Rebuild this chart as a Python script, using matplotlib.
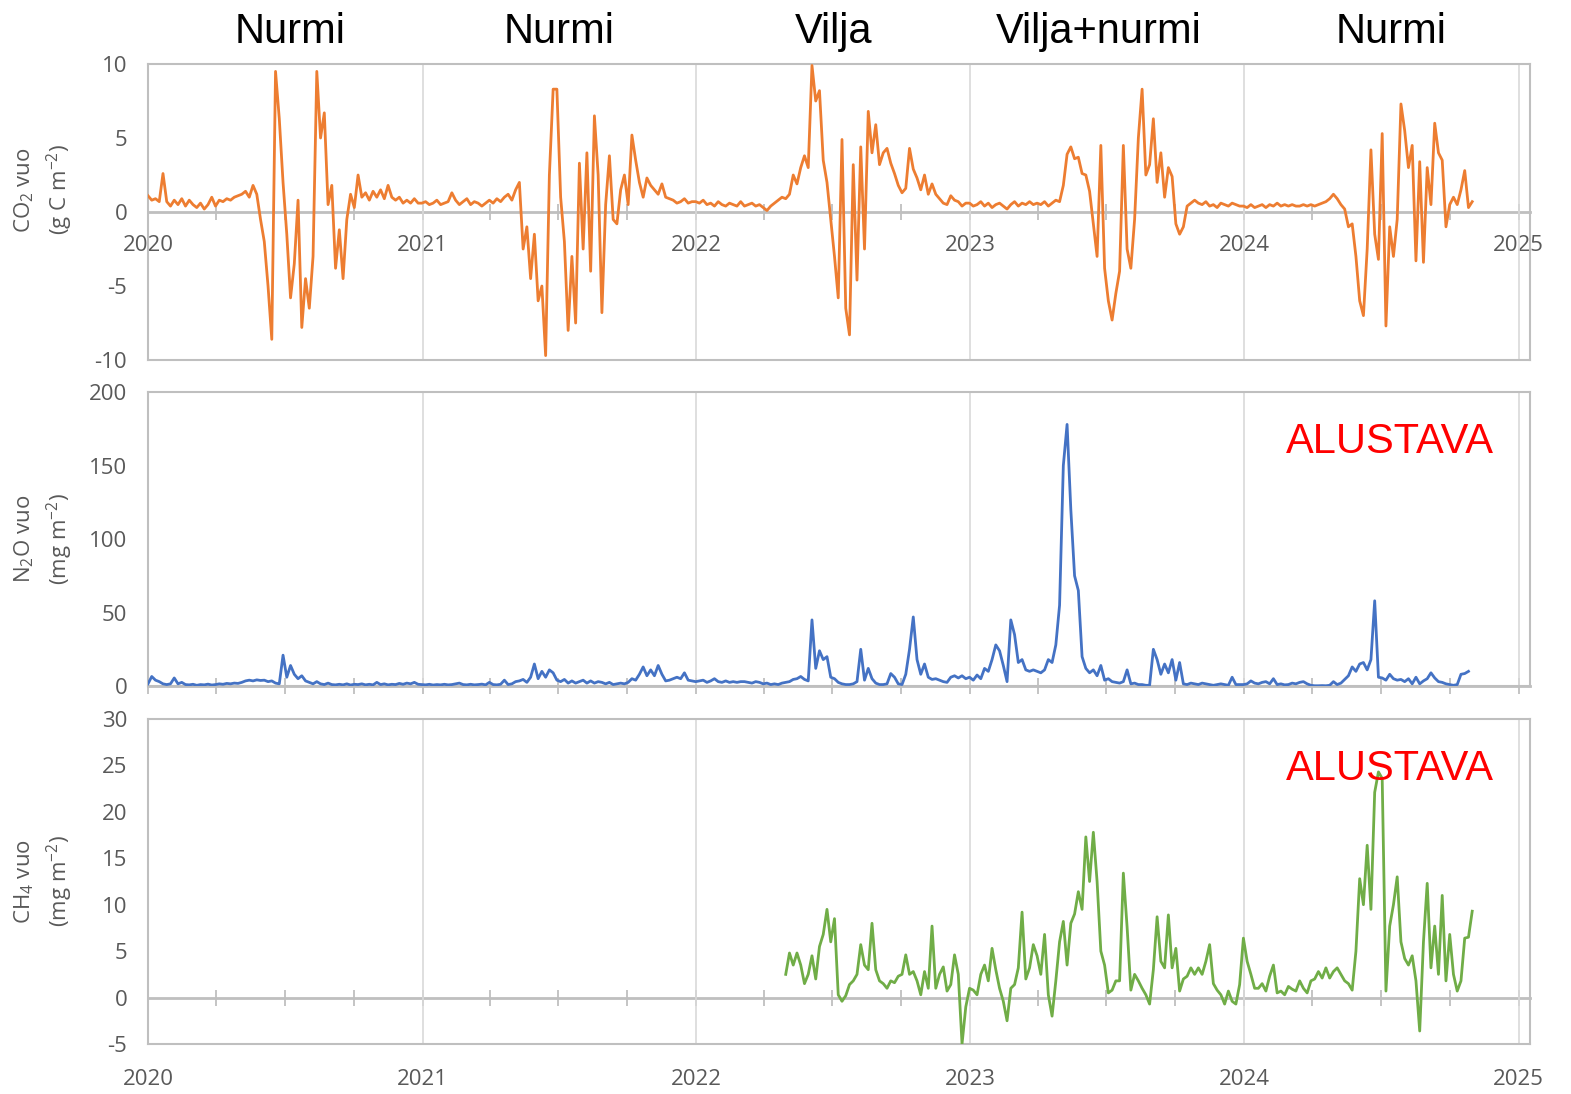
import pandas as pd
import matplotlib
matplotlib.use("Agg")
import matplotlib.pyplot as plt
import matplotlib.dates as mdates
import matplotlib.transforms as mtransforms

# 5-day flux values
step = "5D"

co2_start = "2020-01-01"
co2_vals = [
    1.1, 0.8, 0.9, 0.7, 2.6, 0.7, 0.4, 0.8, 0.5, 0.9,
    0.4, 0.8, 0.5, 0.3, 0.6, 0.2, 0.5, 1.0, 0.4, 0.8,
    0.7, 0.9, 0.8, 1.0, 1.1, 1.2, 1.4, 1.0, 1.8, 1.2,
    -0.5, -2.0, -5.0, -8.6, 9.5, 6.3, 2.0, -1.5, -5.8, -3.5,
    0.8, -7.8, -4.5, -6.5, -3.0, 9.5, 5.0, 6.7, 0.5, 1.8,
    -3.8, -1.2, -4.5, -0.5, 1.2, 0.3, 2.5, 1.0, 1.3, 0.8,
    1.4, 1.0, 1.5, 0.9, 1.8, 1.0, 0.8, 1.0, 0.6, 0.8,
    0.6, 0.9, 0.6,
    # 2021
    0.6, 0.7, 0.5, 0.6, 0.8, 0.5, 0.6, 0.7, 1.3, 0.8,
    0.5, 0.7, 0.9, 0.5, 0.7, 0.6, 0.4, 0.6, 0.8, 0.6,
    0.9, 0.7, 1.0, 1.2, 0.8, 1.5, 2.0, -2.5, -1.0, -4.5,
    -1.5, -6.0, -5.0, -9.7, 2.5, 8.3, 8.3, 1.0, -2.0, -8.0,
    -3.0, -7.5, 3.3, -2.5, 4.0, -4.0, 6.5, 2.5, -6.8, 0.5,
    3.8, -0.5, -0.8, 1.5, 2.5, 0.5, 5.2, 3.5, 2.0, 1.0,
    2.3, 1.8, 1.5, 1.2, 1.9, 1.0, 0.9, 0.8, 0.6, 0.7,
    0.9, 0.6, 0.7,
    # 2022
    0.7, 0.6, 0.8, 0.5, 0.6, 0.4, 0.7, 0.5, 0.4, 0.6,
    0.5, 0.4, 0.7, 0.4, 0.5, 0.6, 0.4, 0.5, 0.3, 0.1,
    0.4, 0.6, 0.8, 1.0, 0.9, 1.2, 2.5, 1.9, 3.0, 3.8,
    3.0, 9.9, 7.5, 8.2, 3.5, 2.0, -0.5, -3.0, -5.8, 4.9,
    -6.5, -8.3, 3.2, -4.6, 4.4, -2.5, 6.8, 4.0, 5.9, 3.2,
    4.0, 4.3, 3.3, 2.6, 1.8, 1.3, 1.6, 4.3, 2.9, 2.3,
    1.5, 2.5, 1.2, 1.9, 1.2, 0.9, 0.6, 0.5, 1.1, 0.8,
    0.7, 0.4, 0.6,
    # 2023
    0.6, 0.4, 0.5, 0.7, 0.4, 0.6, 0.3, 0.5, 0.6, 0.4,
    0.2, 0.5, 0.7, 0.4, 0.6, 0.5, 0.7, 0.5, 0.6, 0.5,
    0.7, 0.4, 0.6, 0.8, 0.7, 1.8, 3.9, 4.4, 3.6, 3.7,
    2.6, 2.5, 1.4, -0.8, -3.0, 4.5, -3.8, -6.0, -7.3, -5.5,
    -4.0, 4.5, -2.5, -3.8, -0.5, 5.0, 8.3, 2.5, 3.2, 6.3,
    2.0, 4.0, 1.0, 3.0, 2.4, -0.8, -1.5, -1.0, 0.4, 0.6,
    0.8, 0.6, 0.5, 0.7, 0.4, 0.5, 0.3, 0.6, 0.5, 0.4,
    0.6, 0.5, 0.4,
    # 2024
    0.4, 0.3, 0.5, 0.3, 0.4, 0.5, 0.3, 0.5, 0.4, 0.6,
    0.4, 0.5, 0.4, 0.5, 0.4, 0.4, 0.5, 0.4, 0.5, 0.4,
    0.5, 0.6, 0.7, 0.9, 1.2, 0.9, 0.5, 0.2, -1.0, -0.8,
    -3.0, -6.0, -7.0, -2.5, 4.2, -1.5, -3.2, 5.3, -7.7, -1.0,
    -3.0, -0.5, 7.3, 5.5, 3.0, 4.5, -3.3, 3.4, -3.4, 3.0,
    0.5, 6.0, 4.0, 3.5, -1.0, 0.5, 1.0, 0.5, 1.5, 2.8,
    0.3, 0.7,
]

n2o_start = "2020-01-01"
n2o_vals = [
    1.5, 6.5, 4.0, 3.0, 1.5, 1.0, 1.5, 5.5, 1.5, 2.5,
    1.0, 0.8, 1.2, 0.5, 1.0, 0.8, 1.3, 0.7, 1.0, 1.5,
    1.2, 1.8, 1.5, 2.0, 1.8, 2.5, 3.5, 4.0, 3.5, 4.2,
    3.8, 4.0, 3.0, 3.5, 2.0, 1.5, 21.0, 6.0, 14.0, 8.0,
    5.0, 7.0, 3.5, 2.5, 1.5, 3.0, 1.5, 1.0, 2.0, 1.0,
    0.8, 1.2, 0.8, 1.5, 0.7, 1.2, 1.0, 1.5, 0.8, 1.2,
    0.8, 2.5, 1.0, 1.5, 0.8, 1.2, 1.0, 1.8, 1.2, 2.0,
    1.5, 2.5, 1.2,
    # 2021
    1.0, 0.8, 1.2, 0.7, 1.0, 0.8, 1.2, 0.8, 1.0, 1.5,
    2.0, 1.0, 0.8, 1.2, 0.8, 1.0, 1.3, 0.8, 2.5, 1.0,
    0.8, 1.2, 4.0, 1.0, 1.5, 3.0, 3.5, 4.5, 2.5, 6.0,
    15.0, 5.0, 10.0, 6.0, 11.0, 9.0, 4.0, 3.0, 4.5, 2.0,
    3.5, 2.0, 3.0, 4.0, 2.0, 3.5, 2.0, 3.0, 2.5, 1.5,
    2.5, 1.0, 1.5, 2.0, 1.5, 2.5, 5.0, 4.0, 8.0, 13.0,
    7.0, 11.0, 7.0, 14.0, 8.0, 3.5, 4.0, 5.0, 6.0, 5.0,
    9.0, 4.0, 3.5,
    # 2022
    3.0, 3.5, 4.0, 2.5, 3.5, 5.0, 3.0, 2.5, 3.5, 2.5,
    3.0, 2.5, 3.0, 3.0, 2.5, 2.0, 3.0, 2.5, 1.5, 2.0,
    1.0, 1.5, 1.0, 2.0, 2.5, 3.0, 4.5, 5.0, 6.5, 4.5,
    3.5, 45.0, 12.0, 24.0, 18.0, 20.0, 6.0, 5.0, 2.5, 1.5,
    1.0, 1.0, 1.5, 3.0, 25.0, 4.0, 12.0, 5.0, 2.0, 1.0,
    1.0, 1.5, 8.5, 6.0, 1.5, 1.0, 8.0, 25.0, 47.0, 18.0,
    8.0, 15.0, 6.0, 4.5, 5.0, 4.0, 3.0, 2.5, 6.0, 7.0,
    5.5, 7.0, 5.0,
    # 2023
    6.0, 4.0, 7.5, 5.0, 12.0, 10.0, 18.0, 28.0, 24.0, 14.0,
    3.0, 45.0, 35.0, 16.0, 18.0, 11.0, 10.0, 11.0, 10.0, 9.0,
    11.0, 18.0, 16.0, 28.0, 55.0, 150.0, 178.0, 120.0, 75.0, 65.0,
    20.0, 12.0, 9.0, 11.0, 7.0, 14.0, 4.0, 5.0, 3.0, 2.5,
    2.0, 3.0, 11.0, 1.5, 2.0, 1.0, 1.0, 0.5, 0.5, 25.0,
    18.0, 8.0, 15.0, 9.0, 18.0, 4.0, 16.0, 1.5, 1.0, 2.0,
    1.5, 1.0, 2.0, 1.5, 1.0, 0.5, 1.0, 1.5, 1.0, 0.5,
    6.0, 1.0, 1.0,
    # 2024
    1.0, 1.5, 3.5, 2.0, 1.5, 2.5, 3.0, 1.5, 5.0, 1.0,
    1.5, 0.8, 1.0, 2.0, 1.5, 2.5, 3.0, 1.5, 0.5, 0.2,
    0.2, 0.3, 0.2, 0.5, 3.0, 1.0, 2.0, 4.5, 7.0, 13.0,
    10.0, 15.0, 16.0, 11.0, 18.0, 58.0, 6.0, 5.5, 4.0, 8.0,
    5.0, 4.0, 4.5, 3.0, 5.0, 1.5, 6.0, 1.5, 3.5, 5.0,
    9.0, 5.5, 3.0, 2.5, 1.5, 1.0, 0.5, 1.0, 8.0, 8.5,
    10.0,
]

ch4_start = "2022-04-30"
ch4_vals = [
    2.5, 4.8, 3.5, 4.8, 3.5, 1.5, 2.5, 4.5, 2.0, 5.5,
    6.8, 9.5, 6.0, 8.5, 0.3, -0.4, 0.2, 1.4, 1.8, 2.5,
    5.7, 3.5, 3.0, 8.0, 3.0, 1.8, 1.5, 1.0, 1.8, 1.6,
    2.3, 2.5, 4.6, 2.5, 2.8, 1.8, 0.3, 2.8, 1.0, 7.7,
    1.0, 2.5, 3.3, 0.7, 1.4, 4.6, 2.5, -5.0, -1.0, 1.0,
    0.8, 0.3, 2.5, 3.5, 1.8, 5.3, 3.0, 1.0, -0.4, -2.5,
    1.0, 1.4, 3.2, 9.2, 2.0, 3.2, 5.7, 4.5, 2.5, 6.8,
    0.3, -2.0, 1.8, 6.0, 8.2, 3.5, 8.0, 9.0, 11.4, 9.5,
    17.3, 12.5, 17.8, 12.5, 5.0, 3.5, 0.5, 0.8, 1.8, 1.8,
    13.4, 7.6, 0.8, 2.5, 1.8, 1.0, 0.3, -0.7, 3.0, 8.7,
    3.9, 3.2, 8.9, 3.2, 5.3, 0.7, 2.0, 2.3, 3.2, 2.5,
    3.2, 2.5, 3.9, 5.7, 1.5, 0.8, 0.3, -0.7, 0.7, -0.4,
    -0.7, 1.4, 6.4, 3.9, 2.5, 1.0, 1.0, 1.5, 0.7, 2.3,
    3.5, 0.5, 0.7, 0.3, 1.2, 0.9, 0.7, 1.8, 1.0, 0.5,
    1.8, 2.0, 2.8, 2.1, 3.2, 2.1, 2.8, 3.2, 2.5, 1.8,
    1.5, 0.8, 5.0, 12.8, 10.0, 16.4, 9.5, 22.1, 24.3, 23.6,
    0.7, 7.7, 10.0, 13.0, 6.0, 4.2, 3.5, 4.5, 1.8, -3.6,
    6.0, 12.3, 3.2, 7.7, 2.5, 11.0, 1.8, 6.8, 2.5, 0.7,
    1.8, 6.4, 6.5, 9.3,
]

crop_labels = ["Nurmi", "Nurmi", "Vilja", "Vilja+nurmi", "Nurmi"]
crop_label_dates = ["2020-07-08", "2021-07-02", "2022-07-03", "2023-06-21", "2024-07-15"]

x_min = pd.Timestamp("2020-01-01")
x_max = pd.Timestamp("2025-01-16")
grey_text = "#595959"
frame_col = "#BFBFBF"

plt.rcParams["font.family"] = ["Open Sans", "DejaVu Sans"]
plt.rcParams["mathtext.fontset"] = "custom"
plt.rcParams["mathtext.rm"] = "Open Sans"
plt.rcParams["mathtext.it"] = "Open Sans:italic"
plt.rcParams["axes.unicode_minus"] = False


def series(start, vals):
    return pd.Series(vals, index=pd.date_range(start, periods=len(vals), freq=step))


def style_panel(ax, ylim, yticks, ylabel, label_y, zero_frac, zero_labels, bottom_labels):
    ax.set_xlim(x_min, x_max)
    ax.set_ylim(*ylim)
    ax.set_yticks(yticks)
    ax.tick_params(axis="y", length=0, pad=15, labelsize=16, labelcolor=grey_text)
    ax.xaxis.set_major_locator(mdates.YearLocator())
    ax.xaxis.set_major_formatter(mdates.DateFormatter("%Y"))
    ax.tick_params(axis="x", length=0, labelbottom=bottom_labels, pad=18,
                   labelsize=16, labelcolor=grey_text)
    ax.grid(axis="x", color="#D9D9D9", lw=1.2)
    for s in ax.spines.values():
        s.set_color(frame_col)
        s.set_linewidth(1.5)
    ax.set_ylabel(ylabel, fontsize=16, color=grey_text, linespacing=1.4)
    ax.yaxis.set_label_coords(-0.053, label_y)

    # zero line with the small quarter ticks
    sec = ax.secondary_xaxis(zero_frac)
    sec.set_alignment("bottom")
    sec.xaxis.set_major_locator(mdates.YearLocator())
    sec.xaxis.set_minor_locator(mdates.MonthLocator(bymonth=[4, 7, 10]))
    sec.xaxis.set_major_formatter(mdates.DateFormatter("%Y"))
    sec.tick_params(which="both", direction="inout", length=11, width=1.3, color=frame_col,
                    top=False, labeltop=False, bottom=True,
                    labelbottom=zero_labels, labelsize=16, labelcolor=grey_text, pad=11)
    sec.spines["top"].set_visible(False)
    sec.spines["bottom"].set_color(frame_col)
    sec.spines["bottom"].set_linewidth(2)
    return sec


def main():
    fig = plt.figure(figsize=(15.71, 10.94), dpi=100)
    ax1 = fig.add_axes([0.0942, 0.6709, 0.8797, 0.2706])
    ax2 = fig.add_axes([0.0942, 0.3729, 0.8797, 0.2687])
    ax3 = fig.add_axes([0.0942, 0.0457, 0.8797, 0.2971])

    co2 = series(co2_start, co2_vals)
    n2o = series(n2o_start, n2o_vals)
    ch4 = series(ch4_start, ch4_vals)

    ax1.plot(co2.index, co2.values, color="#ED7D31", lw=2, zorder=3)
    ax2.plot(n2o.index, n2o.values, color="#4472C4", lw=2, zorder=3)
    ax3.plot(ch4.index, ch4.values, color="#70AD47", lw=2, zorder=3)

    style_panel(ax1, (-10, 10), range(-10, 11, 5),
                "CO$_2$ vuo\n(g C m$^{-2}$)", 0.575, 0.5, True, False)
    style_panel(ax2, (0, 200), range(0, 201, 50),
                "N$_2$O vuo\n(mg m$^{-2}$)", 0.5, 0.0, False, False)
    style_panel(ax3, (-5, 30), range(-5, 31, 5),
                "CH$_4$ vuo\n(mg m$^{-2}$)", 0.5, 5 / 35, False, True)

    trans = mtransforms.blended_transform_factory(ax1.transData, fig.transFigure)
    for lab, d in zip(crop_labels, crop_label_dates):
        fig.text(mdates.date2num(pd.Timestamp(d)), 1 - 43 / 1094, lab, transform=trans,
                 ha="center", va="baseline", fontsize=30, family="Liberation Sans",
                 color="black")

    for ax, yb in [(ax2, 0.793), (ax3, 0.812)]:
        ax.text(0.899, yb, "ALUSTAVA", transform=ax.transAxes, ha="center", va="baseline",
                fontsize=30, family="Liberation Sans", color="#FF0000", zorder=5)

    fig.savefig("out.png", dpi=100)


if __name__ == "__main__":
    main()
